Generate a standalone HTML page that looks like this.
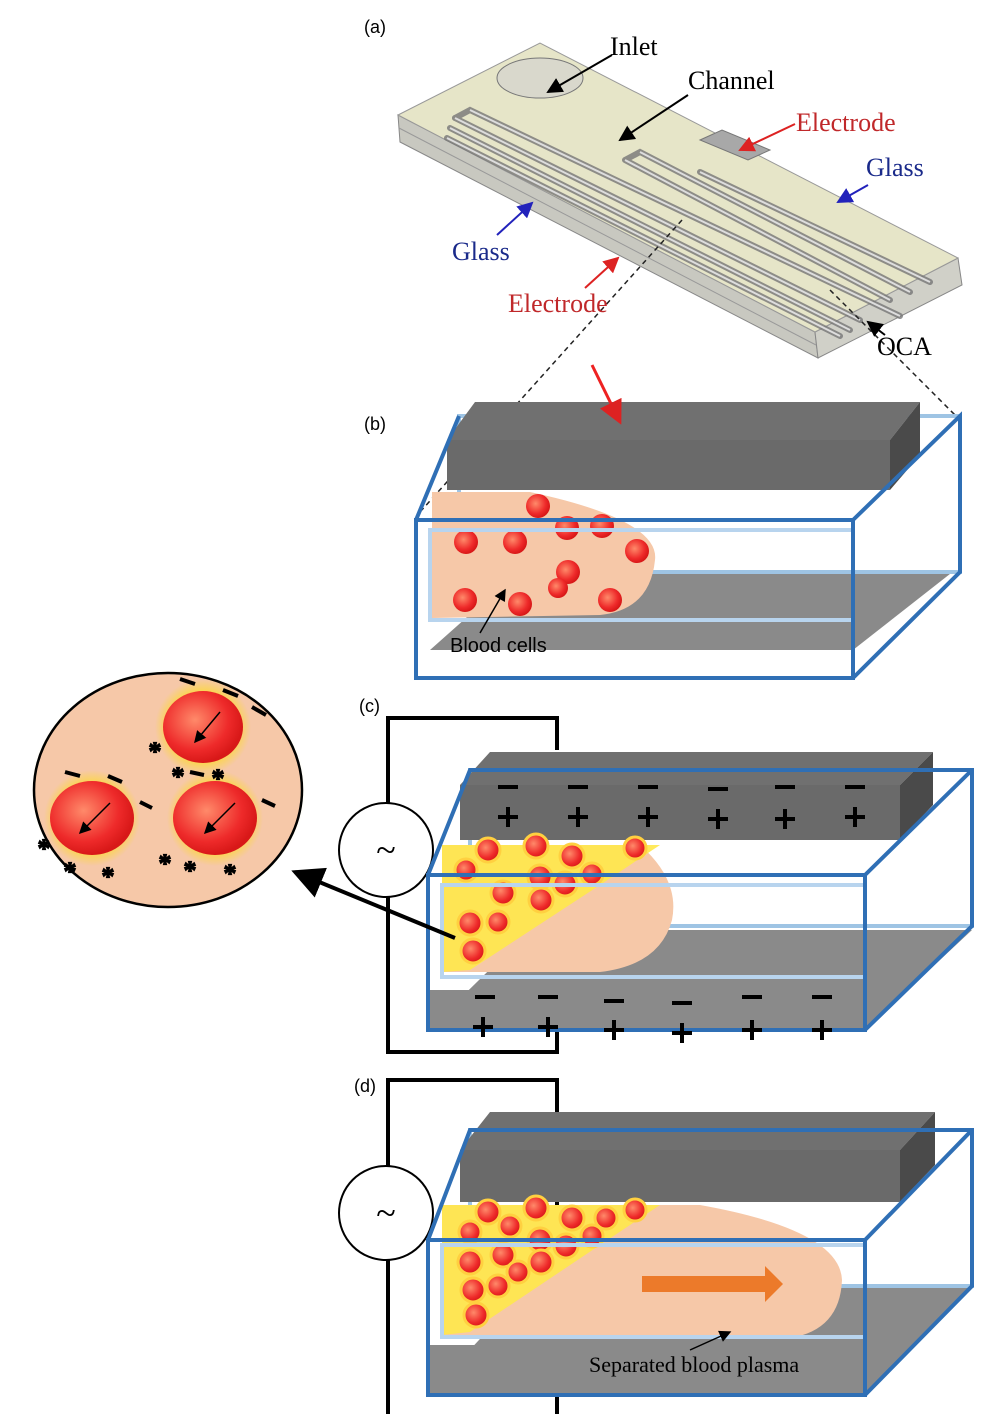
<!DOCTYPE html>
<html><head><meta charset="utf-8"><style>
html,body{margin:0;padding:0;background:#fff}
svg{display:block}
text{font-family:"Liberation Serif",serif}
.s{font-family:"Liberation Sans",sans-serif}
</style></head><body>
<svg width="1000" height="1414" viewBox="0 0 1000 1414" xmlns="http://www.w3.org/2000/svg">
<defs>
<radialGradient id="rc" cx="0.4" cy="0.4" r="0.6"><stop offset="0" stop-color="#ff8a6a"/><stop offset="0.7" stop-color="#ee2a2a"/><stop offset="1" stop-color="#d81818"/></radialGradient>
<radialGradient id="glow"><stop offset="0.5" stop-color="#ffe000"/><stop offset="1" stop-color="#ffe000" stop-opacity="0"/></radialGradient>
<marker id="ah" markerWidth="8" markerHeight="8" refX="7" refY="4" orient="auto"><path d="M0,0 L8,4 L0,8z" fill="#000"/></marker>
<marker id="ahr" markerWidth="8" markerHeight="8" refX="7" refY="4" orient="auto"><path d="M0,0 L8,4 L0,8z" fill="#d22"/></marker>
<marker id="ahb" markerWidth="8" markerHeight="8" refX="7" refY="4" orient="auto"><path d="M0,0 L8,4 L0,8z" fill="#22b"/></marker>
</defs>

<!-- (a) chip -->
<text x="364" y="33" class="s" font-size="18">(a)</text>
<polygon points="398,115 815,332 818,358 400,142" fill="#c8c8c0" stroke="#888" stroke-width="1"/>
<polygon points="815,332 958,258 962,285 818,358" fill="#d0d0c8" stroke="#888"/>
<line x1="399" y1="128" x2="816" y2="345" stroke="#999"/>
<polygon points="398,115 540,43 958,258 815,332" fill="#e6e5c8" stroke="#999"/>
<ellipse cx="540" cy="78" rx="43" ry="20" fill="#d9d8cc" stroke="#777"/>
<g fill="none" stroke="#777" stroke-width="6" stroke-linecap="round" opacity="0.8">
<path d="M455,118 L860,320 M450,128 L850,330 M447,138 L840,336"/>
<path d="M455,118 L470,110 L900,316 M470,110 L455,118"/>
<path d="M625,160 L890,300 M625,160 L640,152 L910,292"/>
<path d="M700,172 L930,282"/>
</g>
<g fill="none" stroke="#ddd" stroke-width="2">
<path d="M455,118 L860,320 M450,128 L850,330 M447,138 L840,336 M470,110 L900,316 M625,160 L890,300 M640,152 L910,292 M700,172 L930,282"/>
</g>
<polygon points="700,140 722,130 770,150 748,160" fill="#a8a8a8" stroke="#777"/>
<line x1="682" y1="220" x2="420" y2="512" stroke="#222" stroke-dasharray="5,4" stroke-width="1.5"/>
<line x1="830" y1="290" x2="955" y2="415" stroke="#222" stroke-dasharray="5,4" stroke-width="1.5"/>
<text x="610" y="55" font-size="26">Inlet</text>
<line x1="612" y1="55" x2="548" y2="92" stroke="#000" stroke-width="2" marker-end="url(#ah)"/>
<text x="688" y="89" font-size="26">Channel</text>
<line x1="688" y1="95" x2="620" y2="140" stroke="#000" stroke-width="2" marker-end="url(#ah)"/>
<text x="796" y="131" font-size="26" fill="#c0282a">Electrode</text>
<line x1="795" y1="124" x2="740" y2="150" stroke="#d22" stroke-width="2" marker-end="url(#ahr)"/>
<text x="866" y="176" font-size="26" fill="#1a2a8a">Glass</text>
<line x1="868" y1="185" x2="838" y2="202" stroke="#22b" stroke-width="2" marker-end="url(#ahb)"/>
<text x="452" y="260" font-size="26" fill="#1a2a8a">Glass</text>
<line x1="497" y1="235" x2="532" y2="203" stroke="#22b" stroke-width="2" marker-end="url(#ahb)"/>
<text x="508" y="312" font-size="26" fill="#c0282a">Electrode</text>
<line x1="585" y1="288" x2="618" y2="258" stroke="#d22" stroke-width="2" marker-end="url(#ahr)"/>
<text x="877" y="355" font-size="26">OCA</text>
<line x1="885" y1="335" x2="868" y2="322" stroke="#000" stroke-width="2" marker-end="url(#ah)"/>

<!-- (b) -->
<text x="364" y="430" class="s" font-size="18">(b)</text>
<polygon points="430,650 520,570 955,570 853,650" fill="#8a8a8a"/>
<polygon points="459,416 960,416 960,572 459,572" fill="none" stroke="#9ec4e4" stroke-width="4"/>
<polygon points="447,440 475,402 920,402 890,440" fill="#707070"/>
<polygon points="447,440 890,440 890,490 447,490" fill="#6a6a6a"/>
<polygon points="890,440 920,402 920,455 890,490" fill="#4a4a4a"/>
<line x1="592" y1="365" x2="620" y2="422" stroke="#e22" stroke-width="3" marker-end="url(#ahr)"/>
<path d="M432,492 L530,492 Q660,520 655,560 Q650,610 600,615 L432,618 Z" fill="#f6c8a8"/>
<g fill="url(#rc)">
<circle cx="538" cy="506" r="12"/><circle cx="466" cy="542" r="12"/><circle cx="515" cy="542" r="12"/><circle cx="567" cy="528" r="12"/><circle cx="602" cy="526" r="12"/><circle cx="637" cy="551" r="12"/><circle cx="568" cy="572" r="12"/><circle cx="558" cy="588" r="10"/><circle cx="465" cy="600" r="12"/><circle cx="520" cy="604" r="12"/><circle cx="610" cy="600" r="12"/>
</g>
<rect x="430" y="530" width="423" height="90" fill="none" stroke="#b8d4ee" stroke-width="4"/>
<rect x="416" y="520" width="437" height="158" fill="none" stroke="#2f6fb5" stroke-width="4"/>
<polyline points="416,520 459,416" fill="none" stroke="#2f6fb5" stroke-width="4"/>
<polyline points="853,520 960,416 960,572 853,678" fill="none" stroke="#2f6fb5" stroke-width="4"/>
<text x="450" y="652" class="s" font-size="20">Blood cells</text>
<line x1="480" y1="633" x2="505" y2="590" stroke="#000" stroke-width="1.5" marker-end="url(#ah)"/>

<!-- (c) -->
<text x="359" y="712" class="s" font-size="18">(c)</text>
<polyline points="557,750 557,718 388,718 388,1052 557,1052 557,1030" fill="none" stroke="#000" stroke-width="4"/>
<circle cx="386" cy="850" r="47" fill="#fff" stroke="#000" stroke-width="2"/>
<text x="386" y="862" font-size="36" text-anchor="middle">~</text>
<polygon points="428,1030 530,930 972,930 865,1030" fill="#8a8a8a"/>
<polygon points="428,990 865,990 865,1030 428,1030" fill="#8a8a8a"/>
<rect x="470" y="770" width="502" height="156" fill="none" stroke="#9ec4e4" stroke-width="4"/>
<polygon points="460,785 490,752 933,752 900,785" fill="#707070"/>
<rect x="460" y="785" width="440" height="55" fill="#6a6a6a"/>
<polygon points="900,785 933,752 933,805 900,840" fill="#4a4a4a"/>
<path d="M442,845 L640,845 Q680,880 672,920 Q660,965 600,972 L442,972 Z" fill="#f6c8a8"/>
<path d="M442,845 L660,845 L600,885 L470,970 L442,972 Z" fill="#ffe84a" opacity="0.9"/>
<g fill="url(#rc)" stroke="#ffd040" stroke-width="3">
<circle cx="488" cy="850" r="12"/><circle cx="536" cy="846" r="12"/><circle cx="572" cy="856" r="12"/><circle cx="635" cy="848" r="11"/><circle cx="466" cy="870" r="11"/><circle cx="540" cy="877" r="12"/><circle cx="565" cy="884" r="12"/><circle cx="592" cy="874" r="11"/><circle cx="503" cy="893" r="12"/><circle cx="541" cy="900" r="12"/><circle cx="470" cy="923" r="12"/><circle cx="498" cy="922" r="11"/><circle cx="473" cy="951" r="12"/>
</g>
<rect x="442" y="885" width="423" height="92" fill="none" stroke="#b8d4ee" stroke-width="4"/>
<rect x="428" y="875" width="437" height="155" fill="none" stroke="#2f6fb5" stroke-width="4"/>
<polyline points="428,875 470,770 972,770 972,926 865,1030" fill="none" stroke="#2f6fb5" stroke-width="4"/>
<line x1="865" y1="875" x2="972" y2="770" stroke="#2f6fb5" stroke-width="4"/>
<g stroke="#000" stroke-width="4">
<path d="M498,787h20M568,787h20M638,787h20M708,789h20M775,787h20M845,787h20"/>
<path d="M498,817h20M508,807v20M568,817h20M578,807v20M638,817h20M648,807v20M708,819h20M718,809v20M775,819h20M785,809v20M845,817h20M855,807v20"/>
<path d="M475,997h20M538,997h20M604,1001h20M672,1003h20M742,997h20M812,997h20"/>
<path d="M473,1027h20M483,1017v20M538,1027h20M548,1017v20M604,1030h20M614,1020v20M672,1033h20M682,1023v20M742,1030h20M752,1020v20M812,1030h20M822,1020v20"/>
</g>
<line x1="455" y1="938" x2="295" y2="872" stroke="#000" stroke-width="4" marker-end="url(#ah)"/>

<!-- inset -->
<ellipse cx="168" cy="790" rx="138" ry="120" fill="url(#glow)" opacity="0.6"/>
<ellipse cx="168" cy="790" rx="134" ry="117" fill="#f6c8a8" stroke="#000" stroke-width="2.5"/>
<circle cx="203" cy="727" r="48" fill="url(#glow)"/>
<circle cx="92" cy="818" r="48" fill="url(#glow)"/>
<circle cx="215" cy="818" r="48" fill="url(#glow)"/>
<ellipse cx="203" cy="727" rx="40" ry="36" fill="url(#rc)"/>
<ellipse cx="92" cy="818" rx="42" ry="37" fill="url(#rc)"/>
<ellipse cx="215" cy="818" rx="42" ry="37" fill="url(#rc)"/>
<line x1="220" y1="712" x2="195" y2="742" stroke="#000" stroke-width="1.5" marker-end="url(#ah)"/>
<line x1="110" y1="803" x2="80" y2="833" stroke="#000" stroke-width="1.5" marker-end="url(#ah)"/>
<line x1="235" y1="803" x2="205" y2="833" stroke="#000" stroke-width="1.5" marker-end="url(#ah)"/>
<g stroke="#000" stroke-width="4">
<line x1="180" y1="679" x2="195" y2="684"/><line x1="223" y1="690" x2="238" y2="696"/><line x1="252" y1="707" x2="266" y2="715"/>
<line x1="65" y1="772" x2="80" y2="776"/><line x1="108" y1="776" x2="122" y2="782"/><line x1="140" y1="802" x2="152" y2="808"/>
<line x1="190" y1="772" x2="204" y2="775"/><line x1="262" y1="800" x2="275" y2="806"/>
</g>
<g font-family="Liberation Sans,sans-serif" font-size="26" font-weight="bold" text-anchor="middle" stroke="#000" stroke-width="1.2">
<text x="155" y="760">*</text><text x="178" y="785">*</text><text x="218" y="787">*</text>
<text x="44" y="857">*</text><text x="70" y="880">*</text><text x="108" y="885">*</text>
<text x="165" y="872">*</text><text x="190" y="879">*</text><text x="230" y="882">*</text>
</g>

<!-- (d) -->
<text x="354" y="1092" class="s" font-size="18">(d)</text>
<polyline points="557,1414 557,1080 388,1080 388,1414" fill="none" stroke="#000" stroke-width="4"/>
<circle cx="386" cy="1213" r="47" fill="#fff" stroke="#000" stroke-width="2"/>
<text x="386" y="1225" font-size="36" text-anchor="middle">~</text>
<polygon points="428,1395 530,1285 972,1285 865,1395" fill="#8a8a8a"/>
<polygon points="428,1345 865,1345 865,1395 428,1395" fill="#8a8a8a"/>
<rect x="470" y="1130" width="502" height="156" fill="none" stroke="#9ec4e4" stroke-width="4"/>
<polygon points="460,1150 490,1112 935,1112 900,1150" fill="#707070"/>
<rect x="460" y="1150" width="440" height="52" fill="#6a6a6a"/>
<polygon points="900,1150 935,1112 935,1165 900,1202" fill="#4a4a4a"/>
<path d="M442,1205 L700,1205 Q840,1230 842,1280 Q840,1330 790,1338 L442,1338 Z" fill="#f6c8a8"/>
<path d="M442,1205 L660,1205 L600,1245 L470,1332 L442,1335 Z" fill="#ffe84a" opacity="0.9"/>
<g fill="url(#rc)" stroke="#ffd040" stroke-width="3">
<circle cx="488" cy="1212" r="12"/><circle cx="536" cy="1208" r="12"/><circle cx="572" cy="1218" r="12"/><circle cx="606" cy="1218" r="11"/><circle cx="635" cy="1210" r="11"/><circle cx="470" cy="1232" r="11"/><circle cx="510" cy="1226" r="11"/><circle cx="540" cy="1240" r="12"/><circle cx="566" cy="1246" r="12"/><circle cx="592" cy="1236" r="11"/><circle cx="503" cy="1255" r="12"/><circle cx="541" cy="1262" r="12"/><circle cx="470" cy="1262" r="12"/><circle cx="518" cy="1272" r="11"/><circle cx="473" cy="1290" r="12"/><circle cx="498" cy="1286" r="11"/><circle cx="476" cy="1315" r="12"/>
</g>
<polygon points="642,1276 765,1276 765,1266 783,1284 765,1302 765,1292 642,1292" fill="#ec7a2a"/>
<rect x="442" y="1245" width="423" height="92" fill="none" stroke="#b8d4ee" stroke-width="4"/>
<rect x="428" y="1240" width="437" height="155" fill="none" stroke="#2f6fb5" stroke-width="4"/>
<polyline points="428,1240 470,1130 972,1130 972,1286 865,1395" fill="none" stroke="#2f6fb5" stroke-width="4"/>
<line x1="865" y1="1240" x2="972" y2="1130" stroke="#2f6fb5" stroke-width="4"/>
<text x="589" y="1372" font-size="22">Separated blood  plasma</text>
<line x1="690" y1="1350" x2="730" y2="1332" stroke="#000" stroke-width="1.5" marker-end="url(#ah)"/>
</svg>
</body></html>
